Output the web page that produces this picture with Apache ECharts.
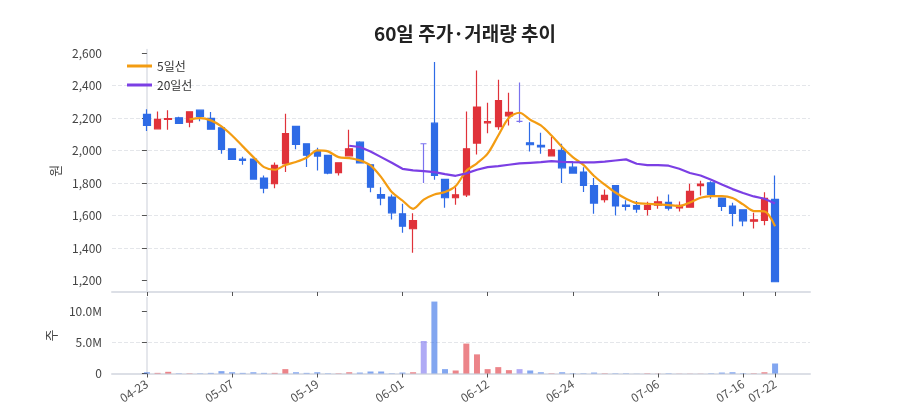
<!DOCTYPE html>
<html>
<head>
<meta charset="utf-8">
<script src="https://cdn.jsdelivr.net/npm/echarts@6/dist/echarts.min.js"></script>
<style>
  html, body { margin: 0; padding: 0; background: #fff; }
  #main { width: 900px; height: 420px; }
</style>
</head>
<body>
<div id="main"></div>
<script>
// 날짜 (60 거래일)
var dates = ['04-23','04-24','04-25','04-28','04-29','04-30','05-01','05-02','05-07','05-08',
  '05-09','05-12','05-13','05-14','05-15','05-16','05-19','05-20','05-21','05-22',
  '05-23','05-26','05-27','05-29','06-01','06-02','06-04','06-05','06-09','06-10',
  '06-11','06-11','06-12','06-13','06-16','06-17','06-18','06-19','06-20','06-23',
  '06-24','06-25','06-26','06-27','06-30','07-01','07-02','07-03','07-06','07-07',
  '07-08','07-09','07-10','07-11','07-14','07-15','07-16','07-17','07-18','07-22'];

var tickIdx = [0, 8, 16, 24, 32, 40, 48, 56, 59];

var opens = [2223,2134,2192,2202,2175,2249,2198,2140,2011,1948,
  1948,1831,1796,1919,2149,2042,1995,1970,1864,1968,
  2052,1913,1730,1714,1611,1519,2042,2169,1823,1710,
  1728,2046,2171,2147,2214,2180,2048,2032,1968,2001,
  1898,1868,1784,1698,1784,1665,1661,1638,1665,1681,
  1648,1652,1784,1802,1708,1659,1636,1566,1570,1700];
var closes = [2155,2192,2197,2167,2239,2210,2132,2007,1946,1940,
  1825,1769,1909,2104,2038,1972,1966,1862,1925,2011,
  1925,1775,1708,1617,1535,1570,2042,1847,1710,1728,
  2011,2268,2179,2307,2235,2180,2036,2022,2005,1894,
  1862,1786,1677,1724,1659,1657,1640,1661,1685,1646,
  1663,1749,1794,1730,1657,1613,1568,1574,1706,1193];
var lows = [2120,2130,2128,2163,2143,2180,2130,1980,1946,1913,
  1820,1738,1769,1868,2009,1899,1878,1854,1847,1968,
  1925,1743,1663,1576,1494,1371,1800,1821,1648,1667,
  1714,1976,2106,2128,2155,2171,1995,1981,1968,1800,
  1862,1745,1611,1681,1601,1632,1617,1601,1642,1632,
  1626,1652,1724,1704,1628,1535,1535,1521,1540,1193];
var highs = [2255,2241,2249,2208,2239,2249,2237,2140,2011,1962,
  1948,1847,1927,2227,2149,2042,2017,1970,1925,2128,
  2058,1913,1775,1730,1673,1615,2042,2545,1823,1775,
  2241,2493,2294,2436,2356,2419,2175,2110,2083,2042,
  1935,1898,1831,1761,1784,1694,1690,1685,1718,1730,
  1687,1796,1814,1812,1708,1679,1636,1617,1743,1847];

var ma5 = [null,null,null,null,2192,2200,2186,2149,2093,2026,
  1960,1898,1882,1911,1930,1956,2001,1995,1960,1954,
  1940,1909,1837,1745,1693,1642,1698,1730,1745,1782,
  1875,1922,1981,2093,2202,2233,2190,2155,2093,2022,
  1960,1912,1844,1791,1742,1704,1677,1673,1669,1665,
  1659,1681,1710,1720,1720,1708,1669,1628,1626,1535];
var ma20 = [null,null,null,null,null,null,null,null,null,null,
  null,null,null,null,null,null,null,null,null,2030,
  2022,1995,1960,1925,1888,1878,1874,1868,1855,1845,
  1860,1882,1898,1905,1913,1921,1925,1929,1935,1931,
  1929,1928,1927,1932,1939,1946,1919,1911,1911,1907,
  1888,1862,1847,1821,1792,1763,1739,1718,1704,1674];

var volumes = [200000,100000,270000,50000,50000,50000,100000,380000,200000,100000,
  200000,100000,100000,700000,200000,100000,200000,50000,50000,200000,
  150000,320000,320000,50000,150000,200000,5200000,11500000,700000,480000,
  4780000,3060000,700000,1020000,540000,700000,480000,200000,50000,200000,
  50000,50000,150000,50000,50000,50000,20000,50000,20000,50000,
  20000,20000,20000,50000,150000,200000,50000,50000,200000,1600000];

var UP = '#e0323a';
var DOWN = '#2e6be6';
var DOJI = '#7a72ee';
var FONT = '"Noto Sans CJK KR", "Noto Sans", sans-serif';

var candleData = opens.map(function (o, i) { return [i, o, closes[i], lows[i], highs[i]]; });
function lineData(arr) {
  var out = [];
  arr.forEach(function (v, i) { if (v != null) out.push([i, v]); });
  return out;
}
var volData = volumes.map(function (v, i) { return [i, v]; });

var myChart = echarts.init(document.getElementById('main'), null, { renderer: 'canvas' });

var xCommon = {
  type: 'value',
  min: -3.28,
  max: 62.28,
  splitLine: { show: false },
  axisLine: { show: true, lineStyle: { color: '#dcdfe6', width: 2 } },
  axisTick: { show: true, customValues: tickIdx, length: 4, lineStyle: { color: '#555' } }
};

var option = {
  animation: false,
  textStyle: { fontFamily: FONT },
  title: {
    text: '60일 주가·거래량 추이',
    left: 460,
    top: 19,
    textAlign: 'center',
    textStyle: { fontSize: 19, fontWeight: 'bold', color: '#222', fontFamily: FONT }
  },
  legend: {
    orient: 'vertical',
    left: 122,
    top: 55,
    icon: 'rect',
    itemWidth: 25,
    itemHeight: 3,
    itemGap: 7,
    textStyle: { fontSize: 12, color: '#333', fontFamily: FONT },
    data: ['5일선', '20일선']
  },
  grid: [
    { left: 112, right: 90, top: 49.5, height: 242.5, outerBoundsMode: 'none' },
    { left: 112, right: 90, top: 297.5, height: 76, outerBoundsMode: 'none' }
  ],
  xAxis: [
    Object.assign({ gridIndex: 0, axisLabel: { show: false } }, xCommon),
    Object.assign({
      gridIndex: 1,
      axisLabel: {
        show: true,
        customValues: tickIdx,
        rotate: 33,
        margin: 9,
        fontSize: 12,
        color: '#555',
        fontFamily: FONT,
        formatter: function (v) { return dates[Math.round(v)]; }
      }
    }, xCommon)
  ],
  yAxis: [
    {
      gridIndex: 0,
      type: 'value',
      min: 1130,
      max: 2622,
      splitNumber: 7,
      name: '원',
      nameLocation: 'middle',
      nameGap: 48,
      nameTextStyle: { fontSize: 13, color: '#444', fontFamily: FONT },
      axisLine: { show: true, lineStyle: { color: '#dcdfe6', width: 1.5 } },
      axisTick: { show: true, customValues: [1200,1400,1600,1800,2000,2200,2400,2600], length: 5, lineStyle: { color: '#555' } },
      axisLabel: {
        customValues: [1200,1400,1600,1800,2000,2200,2400,2600],
        margin: 10, fontSize: 12, color: '#444', fontFamily: FONT,
        formatter: function (v) { return v.toLocaleString('en-US'); }
      },
      splitLine: { show: true, showMinLine: false, showMaxLine: false, lineStyle: { type: 'dashed', color: '#e4e6ea' } }
    },
    {
      gridIndex: 1,
      type: 'value',
      min: 0,
      max: 12150000,
      splitNumber: 2,
      name: '주',
      nameLocation: 'middle',
      nameGap: 48,
      nameTextStyle: { fontSize: 13, color: '#444', fontFamily: FONT },
      axisLine: { show: true, lineStyle: { color: '#dcdfe6', width: 1.5 } },
      axisTick: { show: true, customValues: [0, 5000000, 10000000], length: 5, lineStyle: { color: '#555' } },
      axisLabel: {
        customValues: [0, 5000000, 10000000],
        margin: 10, fontSize: 12, color: '#444', fontFamily: FONT,
        formatter: function (v) { return v === 0 ? '0' : (v / 1000000).toFixed(1) + 'M'; }
      },
      splitLine: { show: true, showMinLine: false, showMaxLine: false, lineStyle: { type: 'dashed', color: '#e4e6ea' } }
    }
  ],
  series: [
    {
      name: '주가',
      type: 'candlestick',
      xAxisIndex: 0,
      yAxisIndex: 0,
      barWidth: 7,
      itemStyle: {
        color: UP, color0: DOWN,
        borderColor: UP, borderColor0: DOWN,
        borderColorDoji: DOJI,
        borderWidth: 1.2
      },
      data: candleData
    },
    {
      name: '5일선',
      type: 'line',
      xAxisIndex: 0,
      yAxisIndex: 0,
      symbol: 'none',
      smooth: 0.3,
      color: '#f39c12',
      lineStyle: { width: 2.2, color: '#f39c12' },
      data: lineData(ma5)
    },
    {
      name: '20일선',
      type: 'line',
      xAxisIndex: 0,
      yAxisIndex: 0,
      symbol: 'none',
      color: '#7b3fe4',
      lineStyle: { width: 2.2, color: '#7b3fe4' },
      data: lineData(ma20)
    },
    {
      name: '거래량',
      type: 'bar',
      xAxisIndex: 1,
      yAxisIndex: 1,
      barWidth: 6,
      itemStyle: {
        opacity: 0.6,
        color: function (p) {
          var i = p.dataIndex;
          if (closes[i] > opens[i]) return UP;
          if (closes[i] < opens[i]) return DOWN;
          return DOJI;
        }
      },
      data: volData
    }
  ]
};

myChart.setOption(option, true);
</script>
</body>
</html>
